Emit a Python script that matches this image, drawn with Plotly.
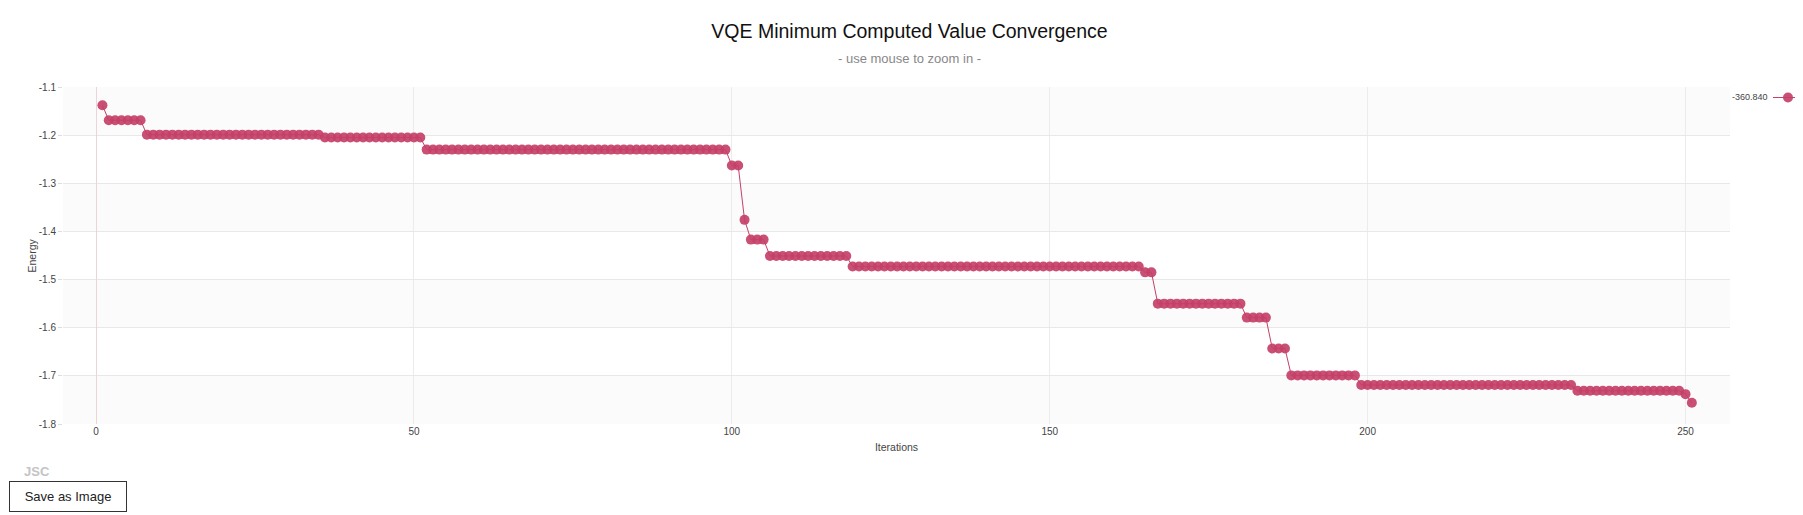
import plotly.graph_objects as go

# ---- data ----
iterations = list(range(1, 252))
energy = [
    -1.138,
    -1.169, -1.169, -1.169, -1.169, -1.169, -1.169,
    -1.199, -1.199, -1.199, -1.199, -1.199, -1.199, -1.199, -1.199, -1.199, -1.199, -1.199, -1.199, -1.199, -1.199,
    -1.199, -1.199, -1.199, -1.199, -1.199, -1.199, -1.199, -1.199, -1.199, -1.199, -1.199, -1.199, -1.199, -1.199,
    -1.205, -1.205, -1.205, -1.205, -1.205, -1.205, -1.205, -1.205, -1.205, -1.205, -1.205, -1.205, -1.205, -1.205, -1.205, -1.205,
    -1.230, -1.230, -1.230, -1.230, -1.230, -1.230, -1.230, -1.230, -1.230, -1.230, -1.230, -1.230,
    -1.230, -1.230, -1.230, -1.230, -1.230, -1.230, -1.230, -1.230, -1.230, -1.230, -1.230, -1.230,
    -1.230, -1.230, -1.230, -1.230, -1.230, -1.230, -1.230, -1.230, -1.230, -1.230, -1.230, -1.230,
    -1.230, -1.230, -1.230, -1.230, -1.230, -1.230, -1.230, -1.230, -1.230, -1.230, -1.230, -1.230,
    -1.263, -1.263,
    -1.376,
    -1.417, -1.417, -1.417,
    -1.451, -1.451, -1.451, -1.451, -1.451, -1.451, -1.451, -1.451, -1.451, -1.451, -1.451, -1.451, -1.451,
    -1.473, -1.473, -1.473, -1.473, -1.473, -1.473, -1.473, -1.473, -1.473, -1.473, -1.473, -1.473,
    -1.473, -1.473, -1.473, -1.473, -1.473, -1.473, -1.473, -1.473, -1.473, -1.473, -1.473, -1.473,
    -1.473, -1.473, -1.473, -1.473, -1.473, -1.473, -1.473, -1.473, -1.473, -1.473, -1.473, -1.473,
    -1.473, -1.473, -1.473, -1.473, -1.473, -1.473, -1.473, -1.473, -1.473, -1.473,
    -1.485, -1.485,
    -1.550, -1.550, -1.550, -1.550, -1.550, -1.550, -1.550, -1.550, -1.550, -1.550, -1.550, -1.550, -1.550, -1.550,
    -1.579, -1.579, -1.579, -1.579,
    -1.643, -1.643, -1.643,
    -1.699, -1.699, -1.699, -1.699, -1.699, -1.699, -1.699, -1.699, -1.699, -1.699, -1.699,
    -1.719, -1.719, -1.719, -1.719, -1.719, -1.719, -1.719, -1.719, -1.719, -1.719, -1.719, -1.719,
    -1.719, -1.719, -1.719, -1.719, -1.719, -1.719, -1.719, -1.719, -1.719, -1.719, -1.719, -1.719,
    -1.719, -1.719, -1.719, -1.719, -1.719, -1.719, -1.719, -1.719, -1.719, -1.719,
    -1.731, -1.731, -1.731, -1.731, -1.731, -1.731, -1.731, -1.731, -1.731,
    -1.731, -1.731, -1.731, -1.731, -1.731, -1.731, -1.731, -1.731,
    -1.738,
    -1.756,
]
series_name = "-360.840"
title_text = "VQE Minimum Computed Value Convergence"
subtitle_text = "- use mouse to zoom in -"
x_title = "Iterations"
y_title = "Energy"
x_ticks = [0, 50, 100, 150, 200, 250]
y_ticks = [-1.1, -1.2, -1.3, -1.4, -1.5, -1.6, -1.7, -1.8]
y_ticktext = ["%.1f" % v for v in y_ticks]

# ---- styles ----
W, H = 1803, 515
ML, MR, MT, MB = 55, 81, 79, 99
PW = W - ML - MR
PH = H - MT - MB
COLOR = "rgb(196,64,104)"
FONT = "Liberation Sans, Arial, sans-serif"

fig = go.Figure()
fig.add_trace(go.Scatter(
    x=iterations, y=energy, mode="lines+markers", name="",
    line=dict(color=COLOR, width=1),
    marker=dict(color=COLOR, size=10, opacity=0.92, line=dict(width=0)),
    showlegend=True,
))

# alternating band backgrounds between gridlines
shapes = []
for i in range(0, len(y_ticks) - 1, 2):
    shapes.append(dict(type="rect", xref="paper", x0=0, x1=1, yref="y",
                       y0=y_ticks[i + 1], y1=y_ticks[i],
                       fillcolor="rgba(0,0,0,0.015)", line=dict(width=0),
                       layer="below"))

def px_x(px):
    return (px - ML) / PW

def px_y(py):
    return 1 - (py - MT) / PH

annotations = [
    dict(text=subtitle_text, xref="paper", yref="paper", x=px_x(W / 2), y=px_y(41),
         showarrow=False, font=dict(size=13, color="#888888", family=FONT)),
    dict(text=series_name, xref="paper", yref="paper", x=px_x(1762), y=px_y(89),
         xanchor="right", yanchor="middle", showarrow=False,
         font=dict(size=9, color="#444444", family=FONT)),
    dict(text=y_title, xref="paper", yref="paper", x=px_x(23), y=0.5,
         xanchor="center", yanchor="middle", textangle=-90, showarrow=False,
         font=dict(size=10.5, color="#444444", family=FONT)),
    dict(text="<b>JSC</b>", xref="paper", yref="paper", x=px_x(14), y=px_y(463),
         xanchor="left", yanchor="middle", showarrow=False,
         font=dict(size=13, color="#c4c4c4", family=FONT)),
    dict(text="Save as Image", xref="paper", yref="paper", x=px_x(0.5), y=px_y(488.5),
         xanchor="left", yanchor="middle", showarrow=False,
         width=114, height=27, align="center", valign="middle",
         bordercolor="#333333", borderwidth=1, borderpad=1, bgcolor="white",
         font=dict(size=13, color="#222222", family=FONT)),
]

fig.update_layout(
    width=W, height=H,
    margin=dict(l=ML, r=MR, t=MT, b=MB),
    paper_bgcolor="white", plot_bgcolor="white",
    font=dict(family=FONT, size=10, color="#444444"),
    title=dict(text=title_text, x=0.5, xref="container", xanchor="center",
               y=1 - 23 / H, yref="container", yanchor="middle",
               font=dict(size=19.5, color="#111111", family=FONT)),
    xaxis=dict(
        title=dict(text=x_title, font=dict(size=10.5, color="#444444"), standoff=7),
        range=[-5.2, 257], tickvals=x_ticks, showgrid=True, gridcolor="#ececec",
        zeroline=True, zerolinecolor="#ead5db", zerolinewidth=1,
        showline=False, ticks="", tickfont=dict(size=10, color="#444444"),
    ),
    yaxis=dict(
        range=[-1.8, -1.1], tickvals=y_ticks, ticktext=y_ticktext,
        showgrid=True, gridcolor="#e8e8e8", zeroline=False, showline=False,
        ticks="outside", ticklen=4, tickcolor="#dddddd",
        tickfont=dict(size=10, color="#444444"),
    ),
    legend=dict(xref="container", yref="container", x=1760 / W, y=1 - 75 / H,
                xanchor="left", yanchor="top",
                bgcolor="rgba(0,0,0,0)", font=dict(size=9)),
    shapes=shapes,
    annotations=annotations,
)

fig.write_html("out.html")
